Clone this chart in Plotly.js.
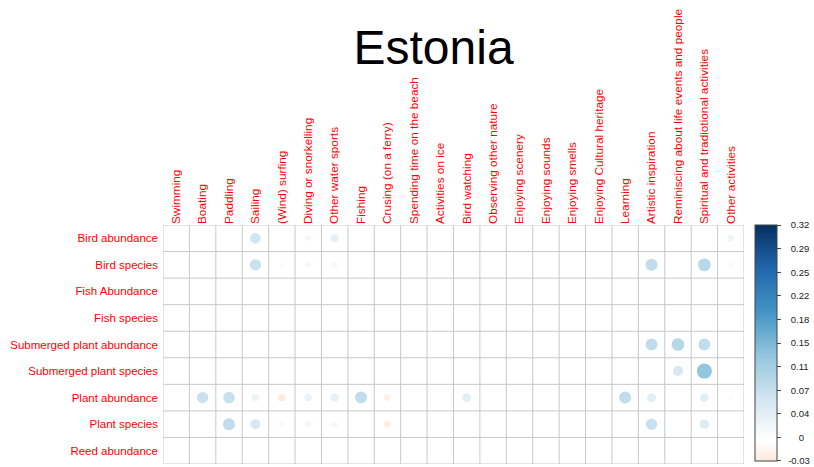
<!DOCTYPE html>
<html>
<head>
<meta charset="utf-8">
<script src="https://cdn.plot.ly/plotly-3.0.1.min.js"></script>
<style>html,body{margin:0;padding:0;background:#fff;}#chart{width:814px;height:467px;}</style>
</head>
<body>
<div id="chart"></div>
<script>
const columns = ["Swimming","Boating","Paddling","Sailing","(Wind) surfing","Diving or snorkelling","Other water sports","Fishing","Crusing (on a ferry)","Spending time on the beach","Activities on ice","Bird watching","Observing other nature","Enjoying scenery","Enjoying sounds","Enjoying smells","Enjoying Cultural heritage","Learning","Artistic inspiration","Reminiscing about life events and people","Spiritual and tradiotional activities","Other activities"];
const rows = ["Bird abundance","Bird species","Fish Abundance","Fish species","Submerged plant abundance","Submerged plant species","Plant abundance","Plant species","Reed abundance"];

const birdAbundance   = [0,0,0,0.064,0,-0.016,0.036,0,0,0,0,0,0,0,0,0,0,0,0,0,0,0.025];
const birdSpecies     = [0,0,0,0.072,-0.009,-0.016,-0.016,0,0,0,0,0,0,0,0,0,0,0,0.081,0,0.091,0.012];
const fishAbundance   = [0,0,0,0,0,0,0,0,0,0,0,0,0,0,0,0,0,0,0,0,0,0];
const fishSpecies     = [0,0,0,0,0,0,0,0,0,0,0,0,0,0,0,0,0,0,0,0,0,0];
const submergedAbund  = [0,0,0,0,0,0,0,0,0,0,0,0,0,0,0,0,0,0,0.081,0.091,0.081,0];
const submergedSpec   = [0,0,0,0,0,0,0,0,0,0,0,0,0,0,0,0,0,0,0,0.056,0.128,0];
const plantAbundance  = [0,0.072,0.075,0.030,-0.030,0.030,0.036,0.081,-0.025,0,0,0.043,0,0,0,0,0,0.081,0.043,0,0.043,0.012];
const plantSpecies    = [0,0,0.081,0.056,-0.012,0.020,0.020,0,-0.025,0,0,0,0,0,0,0,0,0,0.072,0,0.049,0.006];
const reedAbundance   = [0,0,0,0,0,0,0,0,0,0,0,0,0,0,0,0,0,0,0,0,0,0];

const matrix = [birdAbundance,birdSpecies,fishAbundance,fishSpecies,submergedAbund,submergedSpec,plantAbundance,plantSpecies,reedAbundance];

const colorbarTickVals = [-0.0299,0.005,0.04,0.075,0.11,0.145,0.18,0.215,0.25,0.285,0.32];
const colorbarTickText = ["-0.03","0","0.04","0.07","0.11","0.15","0.18","0.22","0.25","0.29","0.32"];

const cmin = -0.03, cmax = 0.32, vAbsMax = 0.32;
// corrplot RdBu palette anchors over [-vAbsMax, vAbsMax]
const anchors = [[-0.03,"#FDE9DF"],[0,"#FFFFFF"],[0.064,"#D1E5F0"],[0.128,"#92C5DE"],[0.192,"#4393C3"],[0.256,"#2166AC"],[0.32,"#053061"]];
const colorscale = anchors.map(a => [(a[0]-cmin)/(cmax-cmin), a[1]]);

const xs=[], ys=[], vals=[], sizes=[];
matrix.forEach((r,i)=>r.forEach((v,j)=>{ xs.push(j); ys.push(i); vals.push(v); sizes.push(Math.abs(v)); }));

const W=814,H=467, mL=163, mR=68, mT=225, mB=3;
const cellPx = (W-mL-mR)/columns.length;
const dMax = 0.9*cellPx;
const sizeref = 2*vAbsMax/(dMax*dMax);

// center tick labels like the reference by padding with non-breaking spaces
const nb = '\u00a0';
const labelWidthChars = 5;
const paddedTickText = colorbarTickText.map(t => nb.repeat(Math.max(0, Math.round((labelWidthChars - t.length)*1.0)) + 2) + t);

const shapes=[];
for(let j=0;j<=columns.length;j++) shapes.push({type:'line',xref:'x',yref:'y',x0:j-0.5,x1:j-0.5,y0:-0.5,y1:rows.length-0.5,line:{color:'#c8c8c8',width:1},layer:'below'});
for(let i=0;i<=rows.length;i++) shapes.push({type:'line',xref:'x',yref:'y',x0:-0.5,x1:columns.length-0.5,y0:i-0.5,y1:i-0.5,line:{color:'#c8c8c8',width:1},layer:'below'});

const trace = {
  type:'scatter', mode:'markers', x:xs, y:ys, hoverinfo:'skip',
  marker:{size:sizes, sizemode:'area', sizeref:sizeref, color:vals, cmin:cmin, cmax:cmax, colorscale:colorscale, line:{width:0}, opacity:1,
    showscale:true,
    colorbar:{x:(757-mL)/(W-mL-mR), xref:'paper', xanchor:'left', xpad:0, ypad:0, y:1, yanchor:'top', len:236, lenmode:'pixels', thickness:22, thicknessmode:'pixels',
      outlinecolor:'#444', outlinewidth:1, tickmode:'array', tickvals:colorbarTickVals, ticktext:paddedTickText, ticks:'outside', ticklen:4, tickcolor:'#444',
      ticklabeloverflow:'allow',
      tickfont:{family:'Liberation Sans, Arial, sans-serif', size:9.5, color:'#222'}}}
};

const layout = {
  width:W, height:H, margin:{l:mL, r:mR, t:mT, b:mB, pad:0},
  paper_bgcolor:'#fff', plot_bgcolor:'#fff', showlegend:false,
  font:{family:'Liberation Sans, Arial, sans-serif'},
  title:{text:'Estonia', font:{size:48, color:'#000', family:'Liberation Sans, Arial, sans-serif'}, x:(434.5-mL)/(W-mL-mR), xref:'paper', xanchor:'center', y:1-47/H, yref:'container', yanchor:'middle'},
  xaxis:{range:[-0.5,columns.length-0.5], side:'top', tickmode:'array', tickvals:columns.map((c,i)=>i), ticktext:columns, tickangle:-90,
    tickfont:{size:11.8, color:'#ff0000'}, showgrid:false, zeroline:false, showline:false, ticks:'', fixedrange:true},
  yaxis:{range:[rows.length-0.5,-0.5], tickmode:'array', tickvals:rows.map((r,i)=>i), ticktext:rows,
    tickfont:{size:11.5, color:'#ff0000'}, showgrid:false, zeroline:false, showline:false, ticks:'', ticklabelstandoff:4, fixedrange:true},
  shapes:shapes
};

Plotly.newPlot('chart',[trace],layout,{displayModeBar:false, staticPlot:true});
</script>
</body>
</html>
